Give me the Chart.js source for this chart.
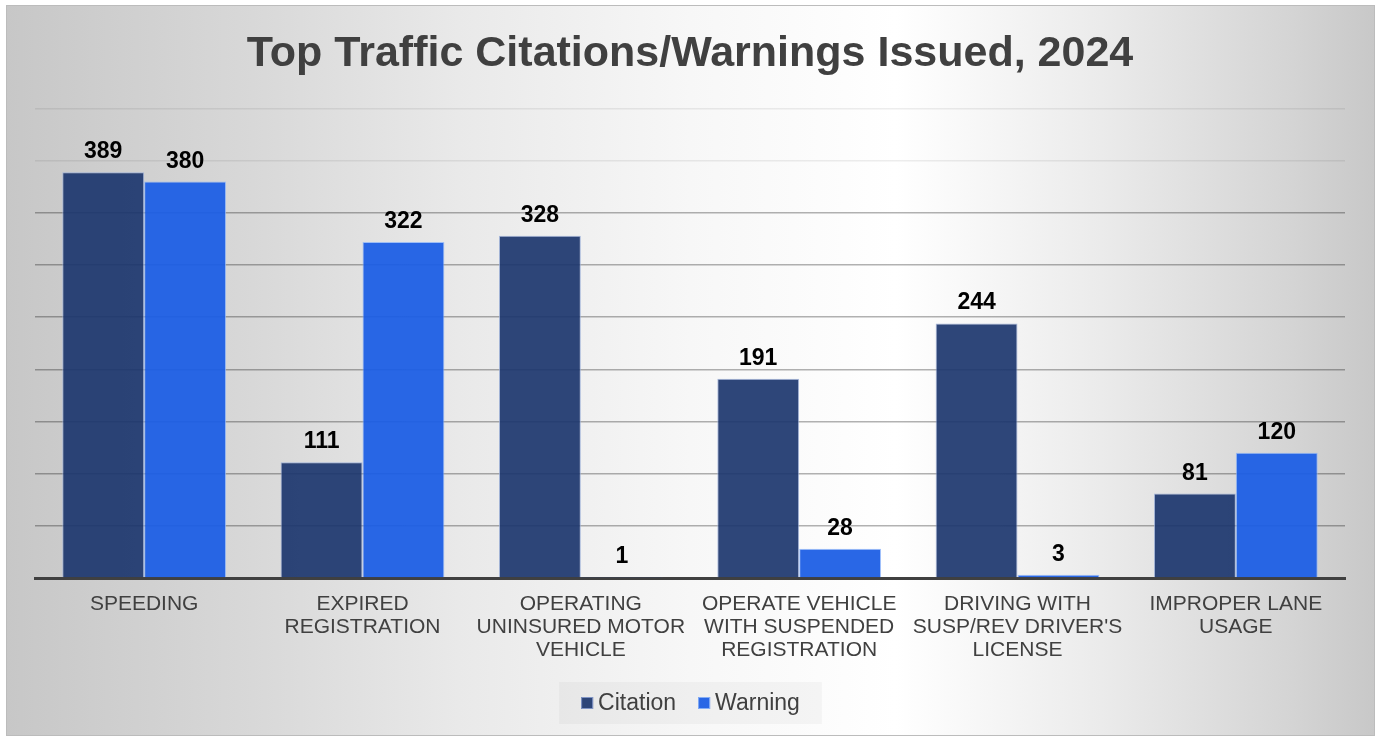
<!DOCTYPE html>
<html>
<head>
<meta charset="utf-8">
<script src="https://cdn.jsdelivr.net/npm/chart.js@4/dist/chart.umd.min.js"></script>
<style>
  html, body { margin: 0; padding: 0; background: #fff; }
  canvas { display: block; }
</style>
</head>
<body>
<canvas id="chart" width="1381" height="736"></canvas>
<script>
const categories = [
  ['SPEEDING'],
  ['EXPIRED', 'REGISTRATION'],
  ['OPERATING', 'UNINSURED MOTOR', 'VEHICLE'],
  ['OPERATE VEHICLE', 'WITH SUSPENDED', 'REGISTRATION'],
  ['DRIVING WITH', "SUSP/REV DRIVER'S", 'LICENSE'],
  ['IMPROPER LANE', 'USAGE'],
];
const citations = [389, 111, 328, 191, 244, 81];
const warnings = [380, 322, 1, 28, 3, 120];
const yMax = 450;
const yStep = 50;

const FONT = "'Liberation Sans', Arial, sans-serif";
const TEXT = '#404040';

// gray frame with a soft horizontal gradient
const backdrop = {
  id: 'backdrop',
  beforeDraw(chart) {
    const { ctx, width, height } = chart;
    ctx.save();
    ctx.fillStyle = '#fff';
    ctx.fillRect(0, 0, width, height);
    const x0 = 6, y0 = 5, x1 = width - 6, y1 = height - 1;
    const g = ctx.createLinearGradient(x0, 0, x1, 0);
    g.addColorStop(0, '#c7c7c7');
    g.addColorStop(0.18, '#d8d8d8');
    g.addColorStop(0.33, '#e9e9e9');
    g.addColorStop(0.5, '#f7f7f7');
    g.addColorStop(0.65, '#ffffff');
    g.addColorStop(0.8, '#ebebeb');
    g.addColorStop(0.94, '#d4d4d4');
    g.addColorStop(1, '#c8c8c8');
    ctx.fillStyle = g;
    ctx.fillRect(x0, y0, x1 - x0, y1 - y0);
    ctx.strokeStyle = '#bcbcbc';
    ctx.lineWidth = 1;
    ctx.strokeRect(x0 + 0.5, y0 + 0.5, x1 - x0 - 1, y1 - y0);
    ctx.restore();
  },
};

// value labels above every bar
const valueLabels = {
  id: 'valueLabels',
  afterDatasetsDraw(chart) {
    const { ctx } = chart;
    ctx.save();
    ctx.font = `bold 23px ${FONT}`;
    ctx.fillStyle = '#000';
    ctx.textAlign = 'center';
    ctx.textBaseline = 'alphabetic';
    chart.data.datasets.forEach((ds, i) => {
      chart.getDatasetMeta(i).data.forEach((bar, j) => {
        ctx.fillText(String(ds.data[j]), bar.x, bar.y - 14);
      });
    });
    ctx.restore();
  },
};

// legend drawn by hand so the box/text spacing matches
const bottomLegend = {
  id: 'bottomLegend',
  afterDraw(chart) {
    const { ctx, width } = chart;
    const sets = chart.data.datasets;
    ctx.save();
    ctx.font = `23px ${FONT}`;
    const box = 12, gap = 5, between = 22;
    const widths = sets.map(ds => ctx.measureText(ds.label).width);
    const total = widths.reduce((a, w) => a + box + gap + w, 0) + between * (sets.length - 1);
    let x = (width - total) / 2;
    const cy = 704;
    ctx.fillStyle = 'rgba(0,0,0,0.03)';
    ctx.fillRect(x - 22, 682, total + 44, 42);
    ctx.textBaseline = 'middle';
    sets.forEach((ds, i) => {
      ctx.fillStyle = ds.backgroundColor;
      ctx.fillRect(x, cy - box / 2 - 1, box, box);
      ctx.strokeStyle = ds.legendBorder;
      ctx.lineWidth = 1;
      ctx.strokeRect(x + 0.5, cy - box / 2 - 0.5, box - 1, box - 1);
      ctx.fillStyle = TEXT;
      ctx.fillText(ds.label, x + box + gap, cy);
      x += box + gap + widths[i] + between;
    });
    ctx.restore();
  },
};

new Chart(document.getElementById('chart'), {
  type: 'bar',
  data: {
    labels: categories,
    datasets: [
      {
        label: 'Citation',
        data: citations,
        backgroundColor: 'rgba(28, 54, 110, 0.92)',
        borderColor: 'rgba(150, 170, 215, 0.8)',
        legendBorder: '#8094c4',
        borderWidth: 1,
      },
      {
        label: 'Warning',
        data: warnings,
        backgroundColor: 'rgba(28, 94, 228, 0.94)',
        borderColor: 'rgba(140, 180, 250, 0.8)',
        legendBorder: '#86aef5',
        borderWidth: 1,
      },
    ],
  },
  options: {
    responsive: false,
    animation: false,
    devicePixelRatio: 1,
    categoryPercentage: 0.75,
    barPercentage: 1.0,
    layout: { padding: { left: 35, right: 36, top: 0, bottom: 59 } },
    plugins: {
      legend: { display: false },
      tooltip: { enabled: false },
      title: {
        display: true,
        text: 'Top Traffic Citations/Warnings Issued, 2024',
        color: TEXT,
        font: { family: FONT, size: 43, weight: 'bold', lineHeight: 1.2 },
        padding: { top: 28, bottom: 29 },
      },
    },
    scales: {
      x: {
        grid: { display: false, drawTicks: false },
        border: { display: true, color: '#404040', width: 3 },
        ticks: {
          color: TEXT,
          padding: 15,
          maxRotation: 0,
          autoSkip: false,
          font: { family: FONT, size: 21, lineHeight: 23 / 21 },
        },
      },
      y: {
        min: 0,
        max: yMax,
        ticks: { display: false, stepSize: yStep },
        border: { display: false },
        grid: {
          drawTicks: false,
          lineWidth: 1.5,
          color: c => (c.tick && c.tick.value >= 400 ? 'rgba(0,0,0,0.07)' : 'rgba(0,0,0,0.3)'),
        },
      },
    },
  },
  plugins: [backdrop, valueLabels, bottomLegend],
});
</script>
</body>
</html>
